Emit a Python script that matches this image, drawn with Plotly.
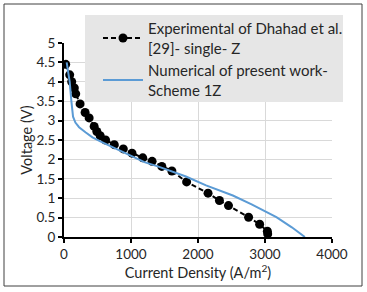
import plotly.graph_objects as go

exp_x = [25, 85, 115, 154, 175, 240, 315, 375, 450, 490, 540, 620, 750, 885, 1015,
         1175, 1315, 1460, 1610, 1830, 2150, 2320, 2455, 2755, 2920, 3035, 3040]
exp_v = [4.45, 4.18, 4.0, 3.84, 3.69, 3.43, 3.21, 3.07, 2.85, 2.72, 2.61, 2.5, 2.38, 2.27, 2.16,
         2.04, 1.95, 1.82, 1.70, 1.42, 1.13, 0.94, 0.81, 0.51, 0.33, 0.15, 0.08]

num_x = [40, 65, 85, 110, 135, 170, 225, 320, 425, 550, 675, 825, 975, 1200, 1400,
         1600, 1820, 2120, 2520, 2800, 3170, 3400, 3595]
num_v = [4.5, 4.2, 4.0, 3.5, 3.1, 2.95, 2.83, 2.7, 2.57, 2.46, 2.36, 2.23, 2.1, 1.93, 1.82,
         1.7, 1.56, 1.33, 1.07, 0.84, 0.51, 0.25, 0.0]

names = ["Experimental of Dhahad et al.<br>[29]- single- Z",
         "Numerical of present work-<br>Scheme 1Z"]

font = "Lato, 'Open Sans', sans-serif"

fig = go.Figure()
fig.add_trace(go.Scatter(x=exp_x, y=exp_v, mode="lines+markers", name=names[0],
                         line=dict(color="black", width=2, dash="5px,3px"),
                         marker=dict(color="black", size=9, symbol="circle")))
fig.add_trace(go.Scatter(x=num_x, y=num_v, mode="lines", name=names[1],
                         line=dict(color="#5B9BD5", width=2)))

W, H = 367, 292
L, R, T, B = 64, 35, 43, 55
pw = W - L - R
ph = H - T - B

def px2x(p):
    return (p - L) / pw

def py2y(p):
    return (H - B - p) / ph

fig.update_layout(
    width=W, height=H,
    margin=dict(l=L, r=R, t=T, b=B, autoexpand=False),
    paper_bgcolor="white", plot_bgcolor="white",
    font=dict(family=font, size=13, color="#262626"),
    showlegend=True,
    legend=dict(x=px2x(98), y=py2y(12), xanchor="left", yanchor="top",
                bgcolor="rgba(0,0,0,0)", borderwidth=0,
                font=dict(family=font, size=15, color="#262626"),
                itemwidth=40),
    xaxis=dict(range=[0, 4000], tickvals=[0, 1000, 2000, 3000, 4000],
               showgrid=True, gridcolor="#D9D9D9", gridwidth=1,
               showline=True, linecolor="black", linewidth=2,
               ticks="outside", ticklen=4, tickcolor="black", tickwidth=2,
               zeroline=False, automargin=False,
               tickfont=dict(size=13.5),
               title=dict(text="Current Density (A/m<sup>2</sup>)", standoff=4,
                          font=dict(size=14.5))),
    yaxis=dict(range=[0, 5], dtick=0.5,
               showgrid=True, gridcolor="#D9D9D9", gridwidth=1,
               showline=True, linecolor="black", linewidth=2,
               ticks="outside", ticklen=4, tickcolor="black", tickwidth=2,
               zeroline=False, automargin=False,
               tickfont=dict(size=13.5),
               title=dict(text="Voltage (V)", standoff=0, font=dict(size=14.5))),
    shapes=[
        dict(type="rect", xref="paper", yref="paper",
             x0=px2x(4), x1=px2x(362), y0=py2y(286), y1=py2y(4),
             line=dict(color="#404040", width=1), layer="below"),
        dict(type="rect", xref="paper", yref="paper",
             x0=px2x(85), x1=px2x(343), y0=py2y(102), y1=py2y(15),
             fillcolor="#E6E6E6", line=dict(width=0), layer="above"),
    ],
)

fig.write_html("out.html", config={"displayModeBar": False},
               post_script="document.body.style.margin='0';document.body.style.padding='0';")
